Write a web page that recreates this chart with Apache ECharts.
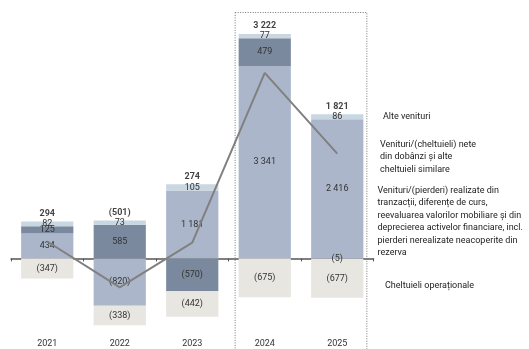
<!DOCTYPE html>
<html><head><meta charset="utf-8">
<script src="https://cdn.jsdelivr.net/npm/echarts@6/dist/echarts.min.js"></script>
<style>html,body{margin:0;padding:0;background:#fff}#c{width:529px;height:349px}</style>
</head><body><div id="c"></div>
<script>
const years = ['2021', '2022', '2023', '2024', '2025'];
const trading = [434, -820, 1181, 3341, 2416];
const interest = [125, 585, -570, 479, -5];
const other = [82, 73, 105, 77, 86];
const opex = [-347, -338, -442, -675, -677];
const totals = [294, -501, 274, 3222, 1821];
const legendOther = 'Alte venituri';
const legendInterest = 'Venituri/(cheltuieli) nete\ndin dobânzi și alte\ncheltuieli similare';
const legendTrading = 'Venituri/(pierderi) realizate din\ntranzacții, diferențe de curs,\nreevaluarea valorilor mobiliare și din\ndeprecierea activelor financiare, incl.\npierderi nerealizate neacoperite din\nrezerva';
const legendOpex = 'Cheltuieli operaționale';

function fmt(v) {
  const s = Math.abs(v).toString().replace(/\B(?=(\d{3})+(?!\d))/g, ' ');
  return v < 0 ? '(' + s + ')' : s;
}
const posTop = years.map((_, i) => [trading[i], interest[i], other[i], opex[i]].reduce((a, v) => a + Math.max(0, v), 0));

const FONT = 'Roboto';
const segLabel = { show: true, position: 'inside', fontSize: 9, fontFamily: FONT, color: '#333', formatter: p => fmt(p.value) };
const chart = echarts.init(document.getElementById('c'), null, { renderer: 'canvas' });
const barW = '72%';
chart.setOption({
  animation: false,
  grid: { left: 11, right: 155.5, top: 28, bottom: 21.4, containLabel: false, outerBoundsMode: 'none' },
  xAxis: [{
    type: 'category', data: years,
    axisLine: { onZero: true, lineStyle: { color: '#555', width: 1.5 } },
    axisTick: { show: true, length: 3, lineStyle: { color: '#555' } },
    axisLabel: { show: false }
  }, {
    type: 'category', data: years, position: 'bottom',
    axisLine: { show: false, onZero: false },
    axisTick: { show: false },
    axisLabel: { margin: 12, fontSize: 9, fontFamily: FONT, color: '#333' }
  }],
  yAxis: { type: 'value', min: -1200, max: 4000, show: false, splitLine: { show: false } },
  series: [
    { name: 'trading', type: 'bar', stack: 's', data: trading, barWidth: barW, itemStyle: { color: '#abb6ca' }, label: segLabel },
    { name: 'interest', type: 'bar', stack: 's', data: interest, barWidth: barW, itemStyle: { color: '#7b899e' }, label: segLabel },
    { name: 'other', type: 'bar', stack: 's', data: other, barWidth: barW, itemStyle: { color: '#c8d7e2' }, label: segLabel },
    { name: 'opex', type: 'bar', stack: 's', data: opex, barWidth: barW, itemStyle: { color: '#e8e6e1' }, label: segLabel },
    { name: 'totalLine', type: 'line', data: totals, showSymbol: false, symbol: 'none', z: 5,
      lineStyle: { color: '#808080', width: 2 } },
    { name: 'totalLabel', type: 'scatter', data: posTop.map((v, i) => ({ value: v, total: totals[i] })), symbolSize: 1,
      itemStyle: { color: 'rgba(0,0,0,0)' }, z: 6,
      label: { show: true, position: 'top', distance: 3, fontSize: 9, fontWeight: 'bold', fontFamily: FONT, color: '#111',
        formatter: p => fmt(p.data.total) } }
  ]
});

const c24 = chart.convertToPixel({ xAxisIndex: 0 }, '2024');
const c25 = chart.convertToPixel({ xAxisIndex: 0 }, '2025');
const band = c25 - c24;
const half = band * 0.72 / 2 + 3.5;
const legendFont = { fontSize: 9, fontFamily: FONT, fill: '#222', lineHeight: 12.5 };
chart.setOption({
  graphic: [
    { type: 'rect', shape: { x: c24 - half, y: 12.5, width: (c25 + half) - (c24 - half), height: 360 },
      style: { fill: 'none', stroke: '#777', lineWidth: 1, lineDash: [1, 1.5] }, z: 10 },
    { type: 'text', left: 383, top: 110.5, style: Object.assign({ text: legendOther }, legendFont) },
    { type: 'text', left: 380, top: 138, style: Object.assign({ text: legendInterest }, legendFont) },
    { type: 'text', left: 377.5, top: 184, style: Object.assign({ text: legendTrading }, legendFont) },
    { type: 'text', left: 385, top: 279, style: Object.assign({ text: legendOpex }, legendFont) }
  ]
});
</script></body></html>
